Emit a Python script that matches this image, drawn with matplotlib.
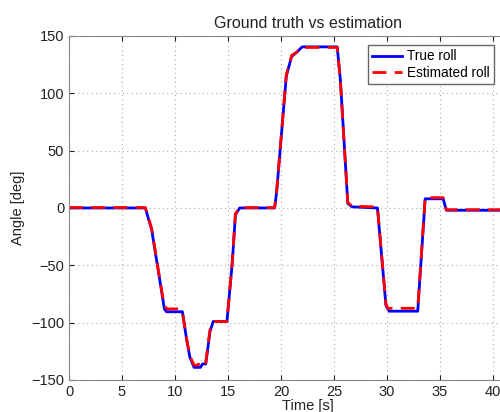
import numpy as np
import matplotlib
matplotlib.use("Agg")
import matplotlib.pyplot as plt

plt.rcParams['font.family'] = ['Liberation Sans', 'DejaVu Sans']

# ground truth roll (time [s], angle [deg])
t_true = [0, 7.2, 7.8, 8.6, 9.0, 9.2, 10.7, 11.1, 11.4, 11.8, 12.4, 12.6, 12.9,
          13.3, 13.6, 14.9, 15.4, 15.7, 16.1, 19.4, 19.6, 20.5, 21.0, 21.5, 22.0,
          25.3, 25.6, 26.3, 26.7, 29.1, 29.9, 30.2, 32.9, 33.6, 35.3, 35.6, 45]
roll_true = [0, 0, -19, -65, -88, -90.5, -90.5, -115, -130, -139, -139, -136, -136,
             -108, -99, -99, -48, -6, 0, 0, 15, 115, 132, 136, 140.5,
             140.5, 112, 4, 1, 0, -85, -90, -90, 8, 8, -2, -2]

# estimated roll
t_est = [0, 7.2, 7.8, 8.6, 9.0, 9.3, 10.4, 10.7, 11.1, 11.4, 11.8, 12.2, 12.3,
         12.6, 12.9, 13.3, 13.6, 14.9, 15.4, 15.7, 16.1, 19.4, 19.6, 20.5, 21.0,
         21.5, 22.0, 25.3, 25.6, 26.3, 26.7, 29.1, 29.9, 30.1, 32.9, 33.6, 35.3,
         35.6, 45]
roll_est = [0.4, 0.4, -18, -64, -86, -88, -88, -91, -114, -129, -137, -137, -133,
            -133, -135, -106, -99, -99, -47, -5, 0.3, 0.3, 16, 116, 133,
            136, 140, 140, 111, 5, 1.5, 1, -84, -87.5, -87.5, 9, 9,
            -1.5, -1.5]

fig = plt.figure(figsize=(5, 4.12), dpi=100)
ax = fig.add_axes([0.138, 0.0777, 0.954, 0.835])

ax.plot(t_true, roll_true, color='blue', lw=2, label='True roll')
ax.plot(t_est, roll_est, color='red', lw=2, ls=(0, (5, 3)), label='Estimated roll')

ax.set_xlim(0, 45)
ax.set_ylim(-150, 150)
ax.set_xticks(np.arange(0, 46, 5))
ax.set_yticks(np.arange(-150, 151, 50))
ax.tick_params(direction='in', top=True, right=True, labelsize=10.5, colors='#222222')
for s in ax.spines.values():
    s.set_color('#888888')
ax.grid(True, ls=(0, (1, 3)), color='#aaaaaa', lw=0.8)

ax.set_title('Ground truth vs estimation', fontsize=11.5, color='#222222')
ax.set_xlabel('Time [s]', fontsize=10.5, labelpad=0, color='#222222')
ax.set_ylabel('Angle [deg]', fontsize=10.5, color='#222222')

leg = fig.legend(loc='upper right', bbox_to_anchor=(0.996, 0.9), fontsize=9.8,
                 fancybox=False, edgecolor='#666666', framealpha=1,
                 handlelength=2.2, borderpad=0.3, labelspacing=0.2,
                 handletextpad=0.4, borderaxespad=0.3)

fig.savefig('out.png', dpi=100)
